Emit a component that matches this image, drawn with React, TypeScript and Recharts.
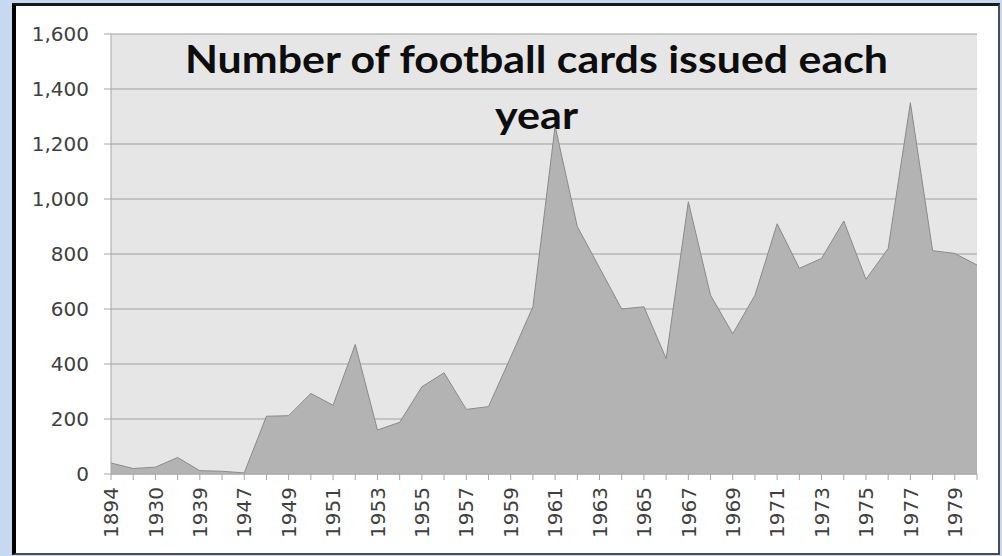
import React from 'react';
import { AreaChart, Area, XAxis, YAxis, CartesianGrid } from 'recharts';

const years = [
  '1894', '1926', '1930', '1935', '1939', '1941', '1947', '1948', '1949', '1950',
  '1951', '1952', '1953', '1954', '1955', '1956', '1957', '1958', '1959', '1960',
  '1961', '1962', '1963', '1964', '1965', '1966', '1967', '1968', '1969', '1970',
  '1971', '1972', '1973', '1974', '1975', '1976', '1977', '1978', '1979', '1980',
];

const cards = [
  40, 20, 25, 60, 12, 10, 4, 210, 212, 293,
  250, 471, 160, 188, 317, 368, 235, 245, 425, 608,
  1265, 900, 750, 600, 608, 420, 990, 650, 510, 650,
  910, 748, 784, 920, 708, 820, 1350, 812, 802, 760,
];

const yTicks = [0, 200, 400, 600, 800, 1000, 1200, 1400, 1600];

const titleLine1 = 'Number of football cards issued each';
const titleLine2 = 'year';

const data = years.map((year, i) => ({ year, cards: cards[i] }));

const fmt = (v: number) => v.toLocaleString('en-US');

const XTick = (props: any) => {
  const { x, y, payload } = props;
  const idx = years.indexOf(String(payload.value));
  if (idx % 2 !== 0) return <g />;
  return (
    <text
      x={x}
      y={y + 5}
      transform={`rotate(-90, ${x}, ${y + 5})`}
      textAnchor="end"
      dy="0.36em"
      fontFamily="DejaVu Sans"
      fontSize={20}
      fill="#404040"
    >
      {payload.value}
    </text>
  );
};

export default function App() {
  return (
    <div style={{ position: 'absolute', left: 0, top: 0, width: 1002, height: 556, background: '#c6d9f0', overflow: 'hidden' }}>
      <div
        style={{
          position: 'absolute',
          left: 12,
          top: 3,
          width: 988,
          height: 552,
          boxSizing: 'border-box',
          background: '#ffffff',
          borderLeft: '4px solid #000000',
          borderTop: '3px solid #1a1a1a',
          borderRight: '2px solid #4d4d4d',
          borderBottom: '2px solid #4d4d4d',
        }}
      />
      <div style={{ position: 'absolute', left: 0, top: 0 }}>
        <AreaChart
          width={1002}
          height={556}
          data={data}
          margin={{ top: 34, right: 25, bottom: 0, left: 0 }}
        >
          <CartesianGrid vertical={false} horizontal={true} stroke="#a0a0a0" fill="#e6e6e6" />
          <XAxis
            dataKey="year"
            interval={0}
            height={82}
            tickSize={6}
            tick={<XTick />}
            stroke="#a6a6a6"
            tickLine={{ stroke: '#a6a6a6' }}
            axisLine={{ stroke: '#a6a6a6' }}
          />
          <YAxis
            width={111}
            domain={[0, 1600]}
            ticks={yTicks}
            tickFormatter={fmt}
            tickSize={7}
            tickMargin={15}
            interval={0}
            tick={{ fontFamily: 'DejaVu Sans', fontSize: 20, fill: '#404040' }}
            tickLine={{ stroke: '#a6a6a6' }}
            axisLine={{ stroke: '#a6a6a6' }}
          />
          <Area
            type="linear"
            dataKey="cards"
            fill="#b3b3b3"
            fillOpacity={1}
            stroke="#8a8a8a"
            strokeWidth={1}
            isAnimationActive={false}
            dot={false}
            activeDot={false}
          />
        </AreaChart>
      </div>
      <svg width={1002} height={556} style={{ position: 'absolute', left: 0, top: 0, pointerEvents: 'none' }}>
        <text
          x={536.5}
          y={73}
          textAnchor="middle"
          fontFamily="Lato"
          fontWeight={700}
          fontSize={38}
          fill="#0d0d0d"
          textLength={703}
          lengthAdjust="spacingAndGlyphs"
        >
          {titleLine1}
        </text>
        <text
          x={536.5}
          y={129}
          textAnchor="middle"
          fontFamily="Lato"
          fontWeight={700}
          fontSize={38}
          fill="#0d0d0d"
          textLength={83}
          lengthAdjust="spacingAndGlyphs"
        >
          {titleLine2}
        </text>
      </svg>
    </div>
  );
}
